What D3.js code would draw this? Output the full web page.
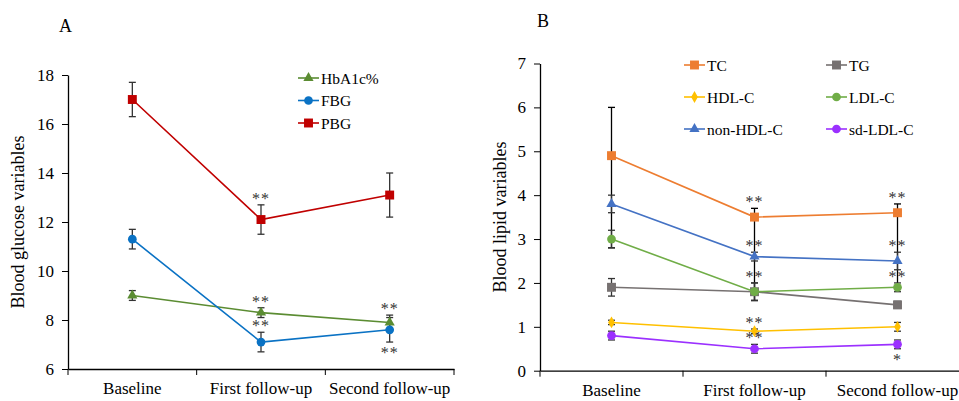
<!DOCTYPE html>
<html>
<head>
<meta charset="utf-8">
<script src="https://cdn.jsdelivr.net/npm/d3@7"></script>
<style>
  body { margin: 0; background: #fff; }
</style>
</head>
<body>
<div id="chart"></div>
<script>
// Categories shared by both panels
var visits = ["Baseline", "First follow-up", "Second follow-up"];

// Panel A: blood glucose
var glucoseNames = ["HbA1c%", "FBG", "PBG"];
var hba1c = [9.0, 8.3, 7.9];
var hba1cErr = [0.2, 0.2, 0.3];
var fbg = [11.3, 7.1, 7.6];
var fbgErr = [0.4, 0.4, 0.5];
var pbg = [17.0, 12.1, 13.1];
var pbgErr = [0.7, 0.6, 0.9];
var glucoseTicks = [6, 8, 10, 12, 14, 16, 18];

// Panel B: blood lipids
var lipidNames = ["TC", "TG", "HDL-C", "LDL-C", "non-HDL-C", "sd-LDL-C"];
var tc = [4.9, 3.5, 3.6];
var tcErrHi = [1.1, 0.2, 0.2];
var tcErrLo = [2.1, 1.9, 1.7];
var tg = [1.9, 1.8, 1.5];
var tgErr = [0.2, 0.2, 0.08];
var hdl = [1.1, 0.9, 1.0];
var hdlErr = [0.05, 0.05, 0.1];
var ldl = [3.0, 1.8, 1.9];
var ldlErr = [0.2, 0.2, 0.1];
var nonHdl = [3.8, 2.6, 2.5];
var nonHdlErr = [0.2, 0.1, 0.2];
var sdLdl = [0.8, 0.5, 0.6];
var sdLdlErr = [0.1, 0.1, 0.1];
var lipidTicks = [0, 1, 2, 3, 4, 5, 6, 7];

// significance marks: [visit index, text, "above"/"below"]
var hba1cStars = [[1, "**", "above"], [2, "**", "above"]];
var fbgStars = [[1, "**", "above"], [2, "**", "below"]];
var pbgStars = [[1, "**", "above"]];
var tcStars = [[1, "**", "above"], [2, "**", "above"]];
var hdlStars = [[1, "**", "above"]];
var ldlStars = [[1, "**", "above"], [2, "**", "above"]];
var nonHdlStars = [[1, "**", "above"], [2, "**", "above"]];
var sdLdlStars = [[1, "**", "above"], [2, "*", "below"]];

var FONT = "'Liberation Serif', 'Times New Roman', 'DejaVu Serif', serif";

function build(vals, hi, lo) {
  return vals.map(function(v, i) {
    return { i: i, v: v, hi: v + hi[i], lo: v - (lo || hi)[i] };
  });
}

var glucoseSeries = [
  { name: glucoseNames[0], color: "#5B8C32", shape: "triangle", pts: build(hba1c, hba1cErr), stars: hba1cStars },
  { name: glucoseNames[1], color: "#0A72C4", shape: "circle", pts: build(fbg, fbgErr), stars: fbgStars },
  { name: glucoseNames[2], color: "#C00000", shape: "square", pts: build(pbg, pbgErr), stars: pbgStars }
];

var lipidSeries = [
  { name: lipidNames[0], color: "#ED7D31", shape: "square", pts: build(tc, tcErrHi, tcErrLo), stars: tcStars, errColor: "#000" },
  { name: lipidNames[1], color: "#767171", shape: "square", pts: build(tg, tgErr), stars: [] },
  { name: lipidNames[2], color: "#FFC000", shape: "diamond", pts: build(hdl, hdlErr), stars: hdlStars },
  { name: lipidNames[3], color: "#70AD47", shape: "circle", pts: build(ldl, ldlErr), stars: ldlStars },
  { name: lipidNames[4], color: "#4472C4", shape: "triangle", pts: build(nonHdl, nonHdlErr), stars: nonHdlStars },
  { name: lipidNames[5], color: "#9B30FF", shape: "circle", pts: build(sdLdl, sdLdlErr), stars: sdLdlStars }
];

var width = 959, height = 401;
var svg = d3.select("#chart").append("svg")
  .attr("width", width).attr("height", height);

var symbolType = {
  triangle: d3.symbolTriangle,
  circle: d3.symbolCircle,
  square: d3.symbolSquare,
  diamond: d3.symbolDiamond
};
var symbolSize = { triangle: 45, circle: 60, square: 80, diamond: 40 };

function drawMarker(g, shape, color, x, y) {
  g.append("path")
    .attr("d", d3.symbol().type(symbolType[shape]).size(symbolSize[shape]))
    .attr("transform", "translate(" + x + "," + y + ")")
    .attr("fill", color);
}

function panel(opt) {
  var g = svg.append("g");
  var x = d3.scaleBand().domain(visits).range([opt.x0, opt.x1]).padding(0);
  var y = d3.scaleLinear().domain(opt.domain).range([opt.y1, opt.y0]);

  // y axis
  var ya = g.append("g")
    .attr("transform", "translate(" + opt.x0 + ",0)")
    .call(d3.axisLeft(y).tickValues(opt.ticks).tickFormat(d3.format("d"))
      .tickSize(6).tickSizeOuter(0).tickPadding(8));
  ya.select(".domain").attr("stroke", "#000").attr("stroke-width", 1.3);
  ya.selectAll("line").attr("stroke", "#000");
  ya.selectAll("text").attr("font-size", 17).attr("fill", "#000");

  // x axis: labels centred, ticks at band edges
  var xa = g.append("g")
    .attr("transform", "translate(0," + opt.y1 + ")")
    .call(d3.axisBottom(x).tickSize(0).tickPadding(13));
  xa.select(".domain").attr("stroke", "#000").attr("stroke-width", 1.3);
  xa.selectAll("text").attr("font-size", 17).attr("fill", "#000");
  var edges = visits.map(function(v) { return x(v); }).concat([opt.x1]);
  xa.selectAll(".edge").data(edges).enter().append("line")
    .attr("x1", function(d) { return d; }).attr("x2", function(d) { return d; })
    .attr("y1", 0).attr("y2", 6).attr("stroke", "#000");

  var cx = function(i) { return x(visits[i]) + x.bandwidth() / 2; };

  // y title
  g.append("text")
    .attr("transform", "translate(" + opt.titleX + "," + ((opt.y0 + opt.y1) / 2) + ") rotate(-90)")
    .attr("text-anchor", "middle")
    .attr("font-size", 18)
    .text(opt.title);

  // panel letter
  g.append("text").attr("x", opt.letterX).attr("y", opt.letterY)
    .attr("font-size", 18).text(opt.letter);

  var line = d3.line().x(function(d) { return cx(d.i); }).y(function(d) { return y(d.v); });

  // error bars
  opt.series.forEach(function(s) {
    s.pts.forEach(function(p) {
      var eg = g.append("g").attr("stroke", s.errColor || "#333").attr("stroke-width", 1.3);
      eg.append("line").attr("x1", cx(p.i)).attr("x2", cx(p.i)).attr("y1", y(p.hi)).attr("y2", y(p.lo));
      [p.hi, p.lo].forEach(function(e) {
        eg.append("line").attr("x1", cx(p.i) - 3.5).attr("x2", cx(p.i) + 3.5)
          .attr("y1", y(e)).attr("y2", y(e));
      });
    });
  });

  // lines and markers
  opt.series.forEach(function(s) {
    g.append("path").datum(s.pts).attr("d", line)
      .attr("fill", "none").attr("stroke", s.color).attr("stroke-width", 1.6);
    s.pts.forEach(function(p) { drawMarker(g, s.shape, s.color, cx(p.i), y(p.v)); });
  });

  // significance stars
  opt.series.forEach(function(s) {
    s.stars.forEach(function(st) {
      var p = s.pts[st[0]];
      var ty = st[2] === "above" ? y(p.hi) - 1 : y(p.lo) + 16;
      g.append("text").attr("x", cx(p.i)).attr("y", ty)
        .attr("text-anchor", "middle").attr("font-size", 16).attr("fill", "#333")
        .attr("letter-spacing", 1)
        .text(st[1]);
    });
  });

  // legend
  opt.series.forEach(function(s, k) {
    var col = k % opt.legendCols, row = Math.floor(k / opt.legendCols);
    var lx = opt.legendX + col * opt.legendColW, ly = opt.legendY + row * opt.legendRowH;
    g.append("line").attr("x1", lx).attr("x2", lx + 21).attr("y1", ly).attr("y2", ly)
      .attr("stroke", s.color).attr("stroke-width", 1.6);
    drawMarker(g, s.shape, s.color, lx + 10.5, ly);
    g.append("text").attr("x", lx + 23).attr("y", ly + 5.5)
      .attr("font-size", 15.5).text(s.name);
  });

  g.selectAll("text").attr("font-family", FONT).style("font-family", FONT);
}

panel({
  series: glucoseSeries, domain: [6, 18], ticks: glucoseTicks,
  x0: 68, x1: 454, y0: 75, y1: 369,
  title: "Blood glucose variables", titleX: 24,
  letter: "A", letterX: 59, letterY: 32,
  legendX: 298, legendY: 78, legendCols: 1, legendColW: 0, legendRowH: 22.5
});

panel({
  series: lipidSeries, domain: [0, 7], ticks: lipidTicks,
  x0: 540, x1: 969, y0: 63.5, y1: 370.7,
  title: "Blood lipid variables", titleX: 506,
  letter: "B", letterX: 537, letterY: 27,
  legendX: 684, legendY: 65, legendCols: 2, legendColW: 142, legendRowH: 32
});
</script>
</body>
</html>
